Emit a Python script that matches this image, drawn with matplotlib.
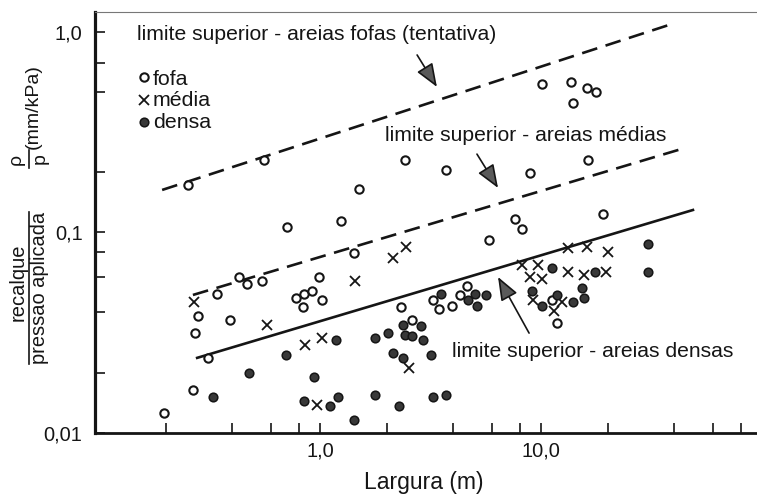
import matplotlib.pyplot as plt
from matplotlib.lines import Line2D
from matplotlib.ticker import FixedLocator, FixedFormatter, NullFormatter

plt.rcParams['font.family'] = ['Liberation Sans', 'DejaVu Sans']

# --------        data        --------
fofa_x = [0.197, 0.253, 0.558, 1.50, 0.709, 1.238, 1.418, 0.430, 0.467, 0.546,
          0.990, 0.342, 0.779, 0.846, 0.920, 1.021, 0.838, 0.280, 0.392, 0.272,
          0.311, 0.266, 10.05, 13.7, 16.1, 17.7, 14.0, 2.42, 3.70, 8.92,
          16.3, 7.63, 8.20, 5.82, 19.0, 2.33, 3.25, 3.46, 3.94, 4.28,
          4.63, 2.62, 11.2, 11.8]
fofa_y = [0.0126, 0.1725, 0.230, 0.165, 0.106, 0.114, 0.079, 0.0597, 0.0553, 0.0570,
          0.0597, 0.0496, 0.0469, 0.0496, 0.0508, 0.0458, 0.0423, 0.0383, 0.0368, 0.0314,
          0.0237, 0.0164, 0.550, 0.563, 0.526, 0.502, 0.442, 0.230, 0.204, 0.197,
          0.230, 0.1174, 0.1035, 0.092, 0.123, 0.0423, 0.0458, 0.0415, 0.0432, 0.0488,
          0.0538, 0.0368, 0.0458, 0.0352]

media_x = [0.269, 0.576, 1.44, 2.15, 2.45, 0.855, 1.021, 0.969, 2.54, 13.3,
           16.1, 20.1, 8.20, 9.65, 8.92, 10.05, 13.3, 15.6, 19.7, 9.20,
           11.5, 12.5]
media_y = [0.0448, 0.0346, 0.0570, 0.0750, 0.0851, 0.0275, 0.0299, 0.0138, 0.0212, 0.0837,
           0.0847, 0.0799, 0.0692, 0.0692, 0.0597, 0.0586, 0.0632, 0.0614, 0.0632, 0.0458,
           0.0406, 0.0448]

densa_x = [0.328, 0.477, 0.702, 0.939, 1.181, 0.846, 1.206, 1.115, 1.418, 1.78,
           2.04, 2.37, 2.42, 2.62, 2.86, 2.92, 2.15, 2.37, 3.19, 1.78,
           2.28, 3.25, 3.70, 3.53, 5.03, 5.61, 4.67, 5.11, 11.2, 17.6,
           30.6, 30.6, 15.3, 15.6, 14.0, 11.8, 10.05, 9.11]
densa_y = [0.0151, 0.0199, 0.0246, 0.0190, 0.0291, 0.0144, 0.0151, 0.0136, 0.0116, 0.0299,
           0.0314, 0.0346, 0.0308, 0.0305, 0.0342, 0.0291, 0.0252, 0.0237, 0.0246, 0.0154,
           0.0136, 0.0151, 0.0154, 0.0496, 0.0496, 0.0488, 0.0458, 0.0432, 0.0665, 0.0632,
           0.0881, 0.0632, 0.0529, 0.0469, 0.0448, 0.0488, 0.0432, 0.0508]

# limites superiores (extremos das retas)
limite_fofa_x = [0.193, 40.4]
limite_fofa_y = [0.163, 1.109]
limite_media_x = [0.266, 44.8]
limite_media_y = [0.0488, 0.264]
limite_densa_x = [0.278, 48.7]
limite_densa_y = [0.0237, 0.1295]

x_major = [1.0, 10.0]
x_major_labels = ['1,0', '10,0']
x_minor = [0.2, 0.4, 0.6, 0.8, 2, 4, 6, 8, 20, 40, 60, 80]
y_major = [0.01, 0.1, 1.0]
y_major_labels = ['0,01', '0,1', '1,0']
y_minor = [0.02, 0.04, 0.06, 0.08, 0.2, 0.5, 0.7]

INK = '#151515'
W, H = 757, 501

FOFA = dict(marker='o', ms=6, mfc='white', mec=INK, mew=1.5)
MEDIA = dict(marker='x', ms=6.5, color=INK, mew=1.3)
DENSA = dict(marker='o', ms=6.2, mfc='#383838', mec=INK, mew=1.1)

# --------        figure        --------
fig = plt.figure(figsize=(W / 100, H / 100), dpi=100)
ax = fig.add_axes([95 / W, 68 / H, 662 / W, 421 / H])
ax.set_xscale('log')
ax.set_yscale('log')
ax.set_xlim(0.0959, 94.9)
ax.set_ylim(0.01, 1.258)

# limits
ax.plot(limite_fofa_x, limite_fofa_y, color=INK, lw=1.9, dashes=(6, 3.3), zorder=2)
ax.plot(limite_media_x, limite_media_y, color=INK, lw=1.9, dashes=(6, 3.3), zorder=2)
ax.plot(limite_densa_x, limite_densa_y, color=INK, lw=1.9, zorder=2)

# data
ax.plot(fofa_x, fofa_y, ls='none', zorder=3, **FOFA)
ax.plot(media_x, media_y, ls='none', zorder=3, **MEDIA)
ax.plot(densa_x, densa_y, ls='none', zorder=3, **DENSA)

# legend (manual)
legend_rows = [
    ('fofa', FOFA, 0.8456, 85),
    ('média', MEDIA, 0.791, 106),
    ('densa', DENSA, 0.7387, 128),
]
for label, style, y_marker, baseline in legend_rows:
    ax.plot([0.074], [y_marker], transform=ax.transAxes, ls='none', clip_on=False, **style)
    ax.text(0.0876, (433 - baseline) / 421, label, transform=ax.transAxes,
            fontsize=15.4, color=INK, va='baseline', ha='left')

# annotations
ax.text(0.1486, 0.966, 'limite superior - areias fofas (tentativa)', fontsize=15.2, color=INK, va='center')
ax.text(1.97, 0.306, 'limite superior - areias médias', fontsize=15.2, color=INK, va='center')
ax.text(3.96, 0.0254, 'limite superior - areias densas', fontsize=15.2, color=INK, va='center')

arrow = dict(arrowstyle='-|>,head_length=0.9,head_width=0.35', fc='#5a5a5a', ec=INK,
             lw=1.2, mutation_scale=16, shrinkA=0, shrinkB=0)
ax.annotate('', xy=(3.38, 0.532), xytext=(2.75, 0.768), arrowprops=arrow)
ax.annotate('', xy=(6.39, 0.1667), xytext=(5.13, 0.246), arrowprops=arrow)
ax.annotate('', xy=(6.39, 0.060), xytext=(8.83, 0.0315), arrowprops=arrow)

# axes style
ax.xaxis.set_major_locator(FixedLocator(x_major))
ax.xaxis.set_major_formatter(FixedFormatter(x_major_labels))
ax.xaxis.set_minor_locator(FixedLocator(x_minor))
ax.xaxis.set_minor_formatter(NullFormatter())
ax.yaxis.set_major_locator(FixedLocator(y_major))
ax.yaxis.set_major_formatter(FixedFormatter(y_major_labels))
ax.yaxis.set_minor_locator(FixedLocator(y_minor))
ax.yaxis.set_minor_formatter(NullFormatter())

ax.tick_params(which='both', direction='in', length=7, width=1.2, color=INK, labelcolor=INK,
               labelsize=14.4)
ax.tick_params(axis='x', pad=6)
ax.tick_params(axis='y', pad=9)

ax.spines['left'].set_linewidth(2.3)
ax.spines['bottom'].set_linewidth(2.0)
ax.spines['left'].set_color(INK)
ax.spines['bottom'].set_color(INK)
ax.spines['top'].set_linewidth(0.8)
ax.spines['top'].set_color('#777777')
ax.spines['right'].set_visible(False)

ax.set_xlabel('Largura (m)', fontsize=16.5, color=INK, va='center')
ax.xaxis.set_label_coords((424 - 95) / 662, (433 - 483) / 421)

# y label: recalque / pressao aplicada  rho / p  (mm/kPa)
def fig_text(x, y, s, size=14):
    fig.text(x / W, 1 - y / H, s, rotation=90, fontsize=size, color=INK, ha='center', va='center')


def fig_bar(x, y0, y1):
    fig.add_artist(Line2D([x / W, x / W], [1 - y0 / H, 1 - y1 / H], color=INK, lw=1.2))


fig_text(18, 282, 'recalque', size=14.5)
fig_bar(29, 212, 364)
fig_text(40, 288, 'pressao aplicada', size=14.4)
fig_text(16, 159, 'ρ')
fig_bar(29, 150, 168)
fig_text(40, 159, 'p')
fig_text(33, 107, '(mm/kPa)')

fig.savefig('out.png', dpi=100, facecolor='white')
